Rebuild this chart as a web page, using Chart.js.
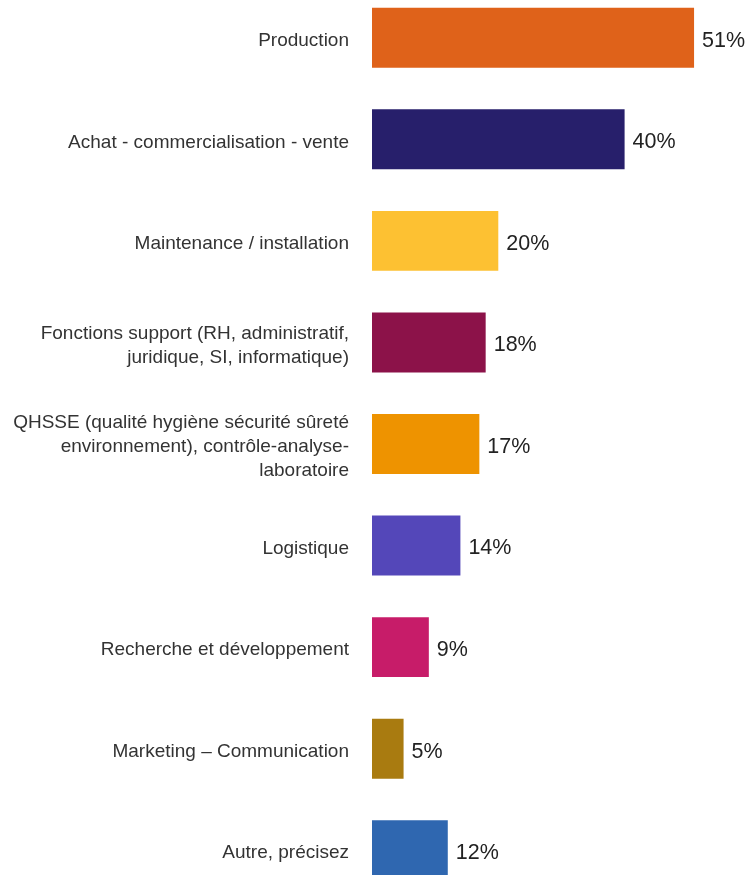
<!DOCTYPE html>
<html>
<head>
<meta charset="utf-8">
<script src="https://cdn.jsdelivr.net/npm/chart.js@4"></script>
<style>
  html, body { margin: 0; padding: 0; background: #fff; overflow: hidden; }
  #wrap { position: absolute; left: 0; top: -13px; width: 749px; height: 914px; }
</style>
</head>
<body>
<div id="wrap"><canvas id="jobs" width="749" height="914"></canvas></div>
<script>
const categories = [
  'Production',
  'Achat - commercialisation - vente',
  'Maintenance / installation',
  ['Fonctions support (RH, administratif,', 'juridique, SI, informatique)'],
  ['QHSSE (qualité hygiène sécurité sûreté', 'environnement), contrôle-analyse-', 'laboratoire'],
  'Logistique',
  'Recherche et développement',
  'Marketing – Communication',
  'Autre, précisez'
];
const percentages = [51, 40, 20, 18, 17, 14, 9, 5, 12];
const barColors = ['#DF621A', '#271F6B', '#FDC132', '#8C1249', '#EE9300', '#5447B9', '#C71C69', '#A97B10', '#2F67B0'];

// draws "51%" etc. just after the end of each bar
const valueLabels = {
  id: 'valueLabels',
  afterDatasetsDraw(chart) {
    const ctx = chart.ctx;
    const meta = chart.getDatasetMeta(0);
    ctx.save();
    ctx.font = '21.5px "Liberation Sans", Arial, sans-serif';
    ctx.fillStyle = '#222';
    ctx.textAlign = 'left';
    ctx.textBaseline = 'middle';
    meta.data.forEach((bar, i) => {
      ctx.fillText(percentages[i] + '%', bar.x + 8, bar.y + 3);
    });
    ctx.restore();
  }
};

new Chart(document.getElementById('jobs').getContext('2d'), {
  type: 'bar',
  data: {
    labels: categories,
    datasets: [{
      data: percentages,
      backgroundColor: barColors,
      borderWidth: 0,
      barPercentage: 0.59,
      categoryPercentage: 1
    }]
  },
  options: {
    indexAxis: 'y',
    responsive: false,
    animation: false,
    devicePixelRatio: 1,
    layout: { padding: 0 },
    plugins: {
      legend: { display: false },
      tooltip: { enabled: false }
    },
    scales: {
      x: {
        display: false,
        min: 0,
        max: 59.7
      },
      y: {
        afterFit(axis) {
          axis.width = 372;
          axis.paddingTop = 0;
          axis.paddingBottom = 0;
        },
        border: { display: false },
        grid: { display: false, drawTicks: false },
        ticks: {
          padding: 23,
          labelOffset: 3,
          color: '#333',
          font: { family: '"Liberation Sans", Arial, sans-serif', size: 19, lineHeight: 1.263 }
        }
      }
    }
  },
  plugins: [valueLabels]
});
</script>
</body>
</html>
